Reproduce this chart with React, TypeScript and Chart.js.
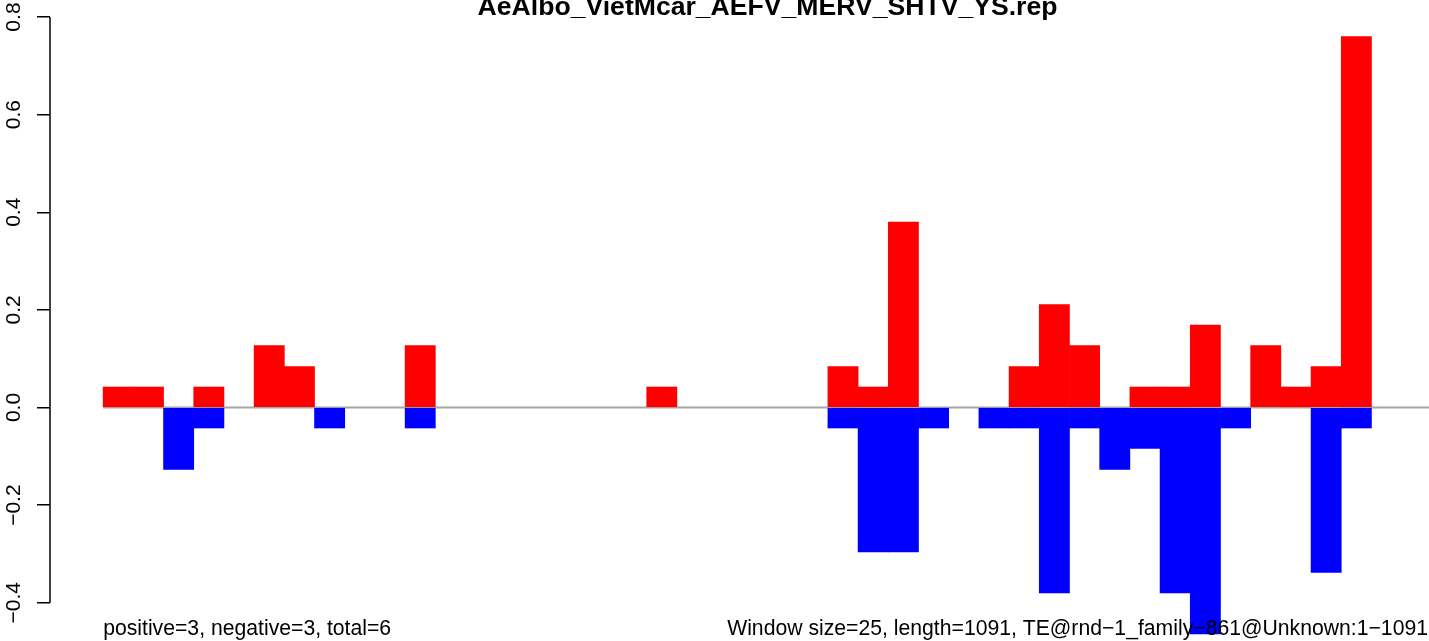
import React, { useEffect, useRef } from 'react';
import { Chart, registerables } from 'chart.js';

Chart.register(...registerables);

// ---- data ----
const windowStarts = [
  1, 26, 51, 76, 101, 126, 151, 176, 201, 226, 251, 276, 301, 326, 351, 376, 401, 426, 451, 476, 501, 526,
  551, 576, 601, 626, 651, 676, 701, 726, 751, 776, 801, 826, 851, 876, 901, 926, 951, 976, 1001, 1026, 1051, 1076,
];
const positiveValues = [
  0.042, 0.042, 0, 0.042, 0, 0.127, 0.084, 0, 0, 0, 0.127, 0, 0, 0, 0, 0, 0, 0, 0.042, 0, 0, 0,
  0, 0, 0.084, 0.042, 0.38, 0, 0, 0, 0.084, 0.211, 0.127, 0, 0.042, 0.042, 0.169, 0, 0.127, 0.042, 0.084, 0.76, 0, 0,
];
const negativeValues = [
  0, 0, -0.127, -0.042, 0, 0, 0, -0.042, 0, 0, -0.042, 0, 0, 0, 0, 0, 0, 0, 0, 0, 0, 0,
  0, 0, -0.042, -0.296, -0.296, -0.042, 0, -0.042, -0.042, -0.38, -0.042, -0.127, -0.084, -0.38, -0.464, -0.042, 0, 0, -0.338, -0.042, 0, 0,
];
const yTickValues = [-0.4, -0.2, 0, 0.2, 0.4, 0.6, 0.8];
const windowSize = 25;
const baselineStart = 1;
const baselineEnd = 1101;
const titleText = 'AeAlbo_VietMcar_AEFV_MERV_SHTV_YS.rep';
const leftNote = 'positive=3, negative=3, total=6';
const rightNote = 'Window size=25, length=1091, TE@rnd\u22121_family\u2212861@Unknown:1\u22121091';

const FONT = '"Liberation Sans", Arial, Helvetica, sans-serif';

const decorPlugin = {
  id: 'rDecor',
  afterDraw(chart: any) {
    const ctx = chart.ctx;
    const ys = chart.scales.y;
    const xs = chart.scales.x;
    const area = chart.chartArea;
    ctx.save();
    // y axis line between first and last tick
    ctx.strokeStyle = '#000';
    ctx.lineWidth = 1.5;
    ctx.beginPath();
    const ax = area.left;
    ctx.moveTo(ax, ys.getPixelForValue(yTickValues[0]));
    ctx.lineTo(ax, ys.getPixelForValue(yTickValues[yTickValues.length - 1]));
    ctx.stroke();
    // title
    ctx.fillStyle = '#000';
    ctx.font = `bold 26.6px ${FONT}`;
    ctx.textAlign = 'center';
    ctx.textBaseline = 'alphabetic';
    ctx.fillText(titleText, (area.left + area.right) / 2, 15);
    // bottom notes
    ctx.font = `21.2px ${FONT}`;
    ctx.textAlign = 'left';
    ctx.fillText(leftNote, xs.getPixelForValue(windowStarts[0]), 635);
    ctx.textAlign = 'right';
    ctx.fillText(rightNote, 1428, 635);
    ctx.restore();
  },
};

const toPoints = (vals: number[]) =>
  windowStarts.map((s, i) => ({ x: s + windowSize / 2, y: vals[i] === 0 ? null : vals[i] }));

export default function App() {
  const canvasRef = useRef<HTMLCanvasElement | null>(null);

  useEffect(() => {
    if (!canvasRef.current) return;
    const chart = new Chart(canvasRef.current, {
      type: 'bar',
      data: {
        datasets: [
          {
            type: 'line',
            data: [
              { x: baselineStart, y: 0 },
              { x: baselineEnd, y: 0 },
            ],
            borderColor: '#a6a6a6',
            borderWidth: 2,
            pointRadius: 0,
            order: 3,
          } as any,
          {
            type: 'bar',
            data: toPoints(positiveValues),
            backgroundColor: '#ff0000',
            borderWidth: 0,
            grouped: false,
            barPercentage: 1,
            categoryPercentage: 1,
            order: 2,
          } as any,
          {
            type: 'bar',
            data: toPoints(negativeValues),
            backgroundColor: '#0000ff',
            borderWidth: 0,
            grouped: false,
            barPercentage: 1,
            categoryPercentage: 1,
            order: 1,
          } as any,
        ],
      },
      options: {
        animation: false,
        responsive: false,
        devicePixelRatio: 1,
        layout: { padding: 0 },
        plugins: {
          legend: { display: false },
          tooltip: { enabled: false },
          title: { display: false },
        },
        scales: {
          x: {
            type: 'linear',
            display: false,
            min: -43,
            max: 1145,
            offset: false,
          },
          y: {
            type: 'linear',
            min: -0.4784,
            max: 0.8349,
            afterBuildTicks: (scale: any) => {
              scale.ticks = yTickValues.map((v) => ({ value: v }));
            },
            afterFit: (scale: any) => {
              scale.width = 50;
              scale.paddingTop = 0;
              scale.paddingBottom = 0;
            },
            border: { display: false },
            grid: {
              display: true,
              drawOnChartArea: false,
              drawTicks: true,
              tickLength: 13,
              color: '#000',
              lineWidth: 1.5,
            },
            ticks: {
              autoSkip: false,
              minRotation: 90,
              maxRotation: 90,
              crossAlign: 'center',
              padding: 2,
              color: '#000',
              font: { family: FONT, size: 21 },
              callback: (v: any) => Number(v).toFixed(1).replace('-', '\u2212'),
            },
          },
        },
      } as any,
      plugins: [decorPlugin],
    });
    return () => chart.destroy();
  }, []);

  return (
    <div style={{ position: 'fixed', left: 0, top: 0, width: 1429, height: 641, overflow: 'hidden', background: '#fff' }}>
      <canvas ref={canvasRef} width={1485} height={641} style={{ display: 'block' }} />
    </div>
  );
}
